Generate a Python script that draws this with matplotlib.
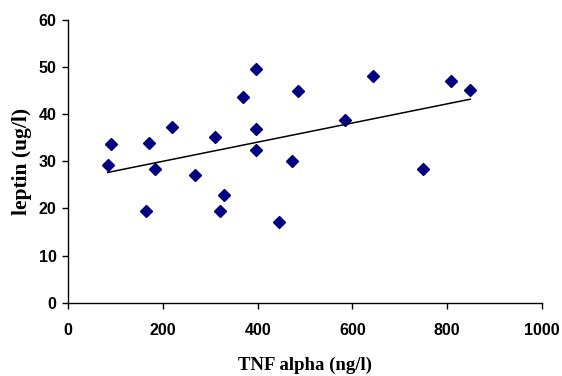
import numpy as np
import matplotlib
matplotlib.use('Agg')
import matplotlib.pyplot as plt

# values
tnf = [83, 91, 163.5, 170.5, 184, 219, 268, 310.5, 320.5, 329.5, 369,
       396, 396, 396, 446, 473, 485, 585, 644, 750, 808, 849]
leptin = [29.2, 33.7, 19.5, 33.8, 28.3, 37.2, 27.0, 35.1, 19.4, 22.9, 43.7,
          49.5, 36.8, 32.4, 17.1, 30.1, 45.0, 38.8, 48.1, 28.4, 47.1, 45.1]
xticks = [0, 200, 400, 600, 800, 1000]
yticks = [0, 10, 20, 30, 40, 50, 60]

fig = plt.figure(figsize=(5.62, 3.76), dpi=100)
ax = fig.add_axes([0.1215, 0.195, 0.8425, 0.752])

ax.plot(tnf, leptin, linestyle='none', marker='D', ms=6.5,
        color='#000080', mec='#000080')

# linear trendline
x = np.array(tnf)
k, b = np.polyfit(x, leptin, 1)
xs = np.array([x.min(), x.max()])
ax.plot(xs, k * xs + b, color='black', lw=1.1)

ax.set_xlim(0, 1000)
ax.set_ylim(0, 60)
ax.set_xticks(xticks)
ax.set_yticks(yticks)
for s in ['top', 'right']:
    ax.spines[s].set_visible(False)
for s in ['left', 'bottom']:
    ax.spines[s].set_linewidth(1.0)
ax.tick_params(direction='out', length=4.5, width=1, pad=4)
for lab in ax.get_xticklabels() + ax.get_yticklabels():
    lab.set_fontfamily('Liberation Sans')
    lab.set_fontweight('bold')
    lab.set_fontsize(11.5)
ax.tick_params(axis='x', pad=10)

ax.set_xlabel('TNF alpha (ng/l)', fontfamily='Liberation Serif',
              fontweight='bold', fontsize=13.5)
ax.set_ylabel('leptin (ug/l)', fontfamily='Liberation Serif',
              fontweight='bold', fontsize=15.5)
ax.xaxis.set_label_coords(0.5, -0.19)
ax.yaxis.set_label_coords(-0.077, 0.5)

fig.savefig('out.png', dpi=100)
